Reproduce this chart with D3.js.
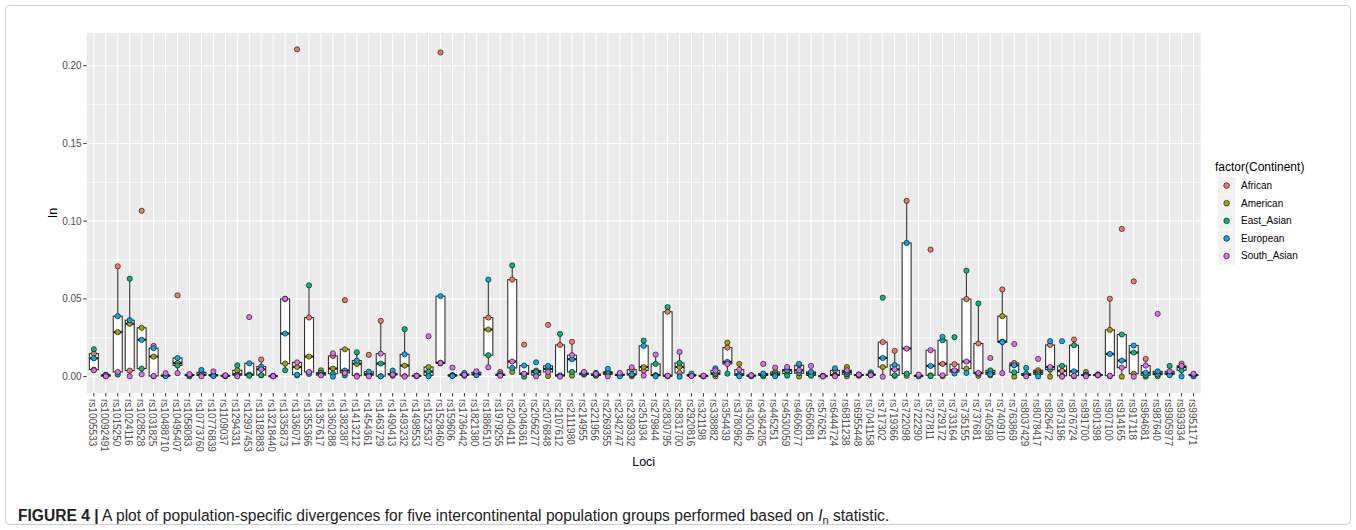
<!DOCTYPE html>
<html>
<head>
<meta charset="utf-8">
<script src="https://cdn.jsdelivr.net/npm/d3@7"></script>
<style>
  body { margin: 0; background: #fff; }
  svg { display: block; font-family: "Liberation Sans", Arial, Helvetica, sans-serif; }
</style>
</head>
<body>
<svg id="chart" width="1356" height="530"></svg>
<script>
// Loci on the x axis, in plotting order
const loci = [
  "rs1005533","rs10092491","rs1015250","rs1024116","rs1028528","rs1031825","rs10488710","rs10495407",
  "rs1058083","rs10773760","rs10776839","rs1109037","rs1294331","rs12997453","rs13182883","rs13218440",
  "rs1335873","rs1336071","rs1355366","rs1357617","rs1360288","rs1382387","rs1413212","rs1454361",
  "rs1463729","rs1490413","rs1493232","rs1498553","rs1523537","rs1528460","rs159606","rs1736442",
  "rs1821380","rs1886510","rs1979255","rs2040411","rs2046361","rs2056277","rs2076848","rs2107612",
  "rs2111980","rs214955","rs221956","rs2269355","rs2342747","rs2399332","rs251934","rs279844",
  "rs2830795","rs2831700","rs2920816","rs321198","rs338882","rs354439","rs3780962","rs430046",
  "rs4364205","rs445251","rs4530059","rs4606077","rs560681","rs576261","rs6444724","rs6811238",
  "rs6955448","rs7041158","rs717302","rs719366","rs722098","rs722290","rs727811","rs729172",
  "rs733164","rs735155","rs737681","rs740598","rs740910","rs763869","rs8037429","rs8078417",
  "rs826472","rs873196","rs876724","rs891700","rs901398","rs907100","rs914165","rs917118",
  "rs964681","rs987640","rs9905977","rs993934","rs9951171"
];

const continents = ["African", "American", "East_Asian", "European", "South_Asian"];

// In statistic per locus, one array per continent
const african = [
  .0148,.0012,.071,.0039,.1067,.0198,.0008,.0523,.0012,.0028,.0012,.0004,.0015,.0013,.011,.0004,
  .0500,.2105,.038,.002,.0133,.0492,.0006,.014,.0359,.002,.0004,.0004,.0008,.2085,.001,.0015,
  .0028,.038,.003,.0624,.0206,.0039,.0333,.0204,.0224,.0015,.001,.0025,.0015,.0045,.0039,.001,
  .0417,.0024,.0012,.0004,.0002,.0187,.0008,.0006,.0002,.001,.0045,.0073,.002,.0003,.004,.0002,
  .0008,.001,.0222,.0166,.1131,.0005,.0817,.0082,.008,.0499,.0213,.0025,.0561,.0088,.0012,.0041,
  .0204,.0037,.0239,.0008,.0012,.0501,.095,.0613,.0114,.002,.002,.0084,.001
];
const american = [
  .0045,.0008,.0286,.034,.0314,.0129,.0006,.0088,.0008,.0008,.0006,.0003,.0041,.0009,.0008,.0003,
  .0084,.0062,.0129,.0041,.0052,.0176,.0082,.0015,.0003,.0005,.0071,.0006,.0062,.0085,.0008,.001,
  .0015,.0303,.0012,.003,.0015,.001,.0004,.0005,.0006,.002,.0006,.0015,.001,.0002,.0062,.0007,
  .0004,.0062,.0008,.0003,.0015,.0219,.0082,.0008,.0012,.003,.002,.0001,.0008,.0004,.001,.0062,
  .0006,.0012,.0062,.0005,.0005,.0004,.0009,.0003,.003,.0052,.0005,.0008,.0389,.0,.0008,.0028,
  .0,.0005,.0002,.003,.0008,.0301,.0,.0019,.0,.0003,.0015,.0062,.0008
];
const eastAsian = [
  .0176,.0004,.0013,.063,.0052,.0002,.0005,.0072,.0001,.0012,.0009,.0005,.0073,.0006,.001,.0002,
  .0041,.0008,.0587,.0025,.0019,.0008,.0157,.001,.0084,.0015,.0305,.0003,.0032,.0089,.0005,.0005,
  .0012,.0138,.0008,.0716,.0,.003,.005,.0275,.003,.0013,.0008,.003,.0008,.0012,.0232,.0082,
  .0447,.0088,.0006,.0005,.002,.0019,.0015,.0004,.0008,.0015,.0006,.0022,.0006,.0002,.0008,.0015,
  .001,.0028,.0508,.0009,.0019,.0006,.0003,.0234,.0254,.0682,.0471,.004,.0225,.0028,.0019,.0015,
  .0045,.0069,.0202,.0012,.0014,.0003,.0271,.0155,.0009,.0013,.0069,.0041,.0002
];
const european = [
  .0118,.001,.0389,.0363,.0237,.0183,.0004,.012,.001,.0043,.0004,.0007,.001,.0086,.0065,.0005,
  .0277,.0013,.0017,.001,.0,.0039,.0103,.0032,.0002,.0039,.0144,.0005,.0003,.0518,.0004,.0024,
  .0009,.0624,.0015,.0056,.0071,.0092,.0069,.0008,.0112,.002,.0024,.005,.0002,.0015,.0198,.0002,
  .0003,.0,.0019,.0002,.0054,.0095,.0002,.0003,.002,.0003,.0041,.0082,.003,.0005,.0054,.003,
  .0014,.0015,.012,.0075,.086,.0002,.0069,.0256,.002,.0024,.0019,.0015,.0222,.0073,.0056,.0001,
  .0228,.0228,.0034,.001,.001,.0146,.0103,.02,.0025,.0034,.0009,.0002,.0012
];
const southAsian = [
  .0041,.0002,.003,.0002,.0015,.0004,.0022,.0022,.0016,.0002,.0034,.0008,.0002,.0383,.0047,.0003,
  .0501,.0092,.003,.0008,.015,.0024,.0,.0002,.0148,.0013,.0,.0005,.026,.0088,.0058,.0012,
  .0034,.006,.0006,.0097,.0019,.0002,.003,.0,.0138,.003,.0018,.0002,.0024,.006,.0006,.0142,
  .0006,.0159,.0004,.0006,.004,.0082,.0045,.0009,.0082,.0058,.0062,.0041,.0069,.0002,.0002,.0041,
  .0013,.0009,.0,.0047,.0181,.0013,.017,.0009,.0041,.0097,.0024,.012,.0022,.021,.0002,.0114,
  .0062,.0,.0006,.0002,.0009,.0006,.0058,.0,.0071,.0404,.0034,.0069,.0019
];

const yTicks = [0, 0.05, 0.10, 0.15, 0.20];
const yMinor = [0.025, 0.075, 0.125, 0.175];
const palette = ["#F8766D", "#A3A500", "#00BF7D", "#00B0F6", "#E76BF3"];

const series = [african, american, eastAsian, european, southAsian];

// Long table: one row per locus x continent
const rows = [];
loci.forEach((l, i) => {
  continents.forEach((c, k) => rows.push({ locus: l, continent: c, value: series[k][i] }));
});

const svg = d3.select("#chart");
const W = 1356, H = 530;
const panel = { left: 86.7, right: 1200.7, top: 33, bottom: 393 };

// Figure frame
svg.append("rect")
  .attr("x", 5.5).attr("y", 5.5).attr("width", W - 11).attr("height", H - 11)
  .attr("rx", 4).attr("fill", "none").attr("stroke", "#cfcfcf").attr("stroke-width", 1);

const x = d3.scalePoint().domain(loci).range([panel.left, panel.right]).padding(0.6);
const lo = d3.min(rows, d => d.value), hi = d3.max(rows, d => d.value);
const pad = 0.05 * (hi - lo);
const y = d3.scaleLinear().domain([lo - pad, hi + pad]).range([panel.bottom, panel.top]);
const color = d3.scaleOrdinal().domain(continents).range(palette);

// Panel background and grid
svg.append("rect")
  .attr("x", panel.left).attr("y", panel.top)
  .attr("width", panel.right - panel.left).attr("height", panel.bottom - panel.top)
  .attr("fill", "#EBEBEB");

const grid = svg.append("g");
grid.selectAll("line.minor").data(yMinor).join("line")
  .attr("x1", panel.left).attr("x2", panel.right)
  .attr("y1", d => y(d)).attr("y2", d => y(d))
  .attr("stroke", "#fff").attr("stroke-width", 0.55);
grid.selectAll("line.majory").data(yTicks).join("line")
  .attr("x1", panel.left).attr("x2", panel.right)
  .attr("y1", d => y(d)).attr("y2", d => y(d))
  .attr("stroke", "#fff").attr("stroke-width", 1.1);
grid.selectAll("line.majorx").data(loci).join("line")
  .attr("x1", d => x(d)).attr("x2", d => x(d))
  .attr("y1", panel.top).attr("y2", panel.bottom)
  .attr("stroke", "#fff").attr("stroke-width", 1.1);

// Boxplot statistics per locus
const boxW = x.step() * 0.75;
const stats = loci.map((l, i) => {
  const v = series.map(s => s[i]).sort(d3.ascending);
  const q1 = d3.quantileSorted(v, 0.25), med = d3.quantileSorted(v, 0.5), q3 = d3.quantileSorted(v, 0.75);
  const iqr = q3 - q1;
  const lowW = d3.min(v.filter(d => d >= q1 - 1.5 * iqr));
  const highW = d3.max(v.filter(d => d <= q3 + 1.5 * iqr));
  return { locus: l, q1, med, q3, lowW, highW };
});

const boxes = svg.append("g").selectAll("g").data(stats).join("g");
boxes.append("line")
  .attr("x1", d => x(d.locus)).attr("x2", d => x(d.locus))
  .attr("y1", d => y(d.highW)).attr("y2", d => y(d.q3))
  .attr("stroke", "#333").attr("stroke-width", 1.1);
boxes.append("line")
  .attr("x1", d => x(d.locus)).attr("x2", d => x(d.locus))
  .attr("y1", d => y(d.q1)).attr("y2", d => y(d.lowW))
  .attr("stroke", "#333").attr("stroke-width", 1.1);
boxes.append("rect")
  .attr("x", d => x(d.locus) - boxW / 2).attr("width", boxW)
  .attr("y", d => y(d.q3)).attr("height", d => Math.max(0.01, y(d.q1) - y(d.q3)))
  .attr("fill", "#fff").attr("stroke", "#333").attr("stroke-width", 1.1);
boxes.append("line")
  .attr("x1", d => x(d.locus) - boxW / 2).attr("x2", d => x(d.locus) + boxW / 2)
  .attr("y1", d => y(d.med)).attr("y2", d => y(d.med))
  .attr("stroke", "#222").attr("stroke-width", 2.2);

// Points, drawn continent by continent
svg.append("g").selectAll("circle").data(rows).join("circle")
  .attr("cx", d => x(d.locus)).attr("cy", d => y(d.value)).attr("r", 2.6)
  .attr("fill", d => color(d.continent)).attr("stroke", "#000").attr("stroke-width", 0.6);

// Y axis
const yAxis = svg.append("g");
yAxis.selectAll("line").data(yTicks).join("line")
  .attr("x1", panel.left - 3.5).attr("x2", panel.left)
  .attr("y1", d => y(d)).attr("y2", d => y(d))
  .attr("stroke", "#333").attr("stroke-width", 1);
yAxis.selectAll("text").data(yTicks).join("text")
  .attr("x", panel.left - 5).attr("y", d => y(d)).attr("dy", "0.35em")
  .attr("text-anchor", "end").attr("font-size", 10).attr("fill", "#4D4D4D")
  .text(d3.format(".2f"));

// X axis
const xAxis = svg.append("g");
xAxis.selectAll("line").data(loci).join("line")
  .attr("x1", d => x(d)).attr("x2", d => x(d))
  .attr("y1", panel.bottom).attr("y2", panel.bottom + 3.5)
  .attr("stroke", "#333").attr("stroke-width", 1);
xAxis.selectAll("text").data(loci).join("text")
  .attr("transform", d => `translate(${x(d) - 1.5},${panel.bottom + 6}) rotate(90)`)
  .attr("dy", "0.35em").attr("text-anchor", "start")
  .attr("font-size", 10).attr("fill", "#4D4D4D")
  .text(d => d);

// Axis titles
svg.append("text")
  .attr("x", (panel.left + panel.right) / 2).attr("y", 466)
  .attr("text-anchor", "middle").attr("font-size", 12.5).attr("fill", "#000")
  .text("Loci");
svg.append("text")
  .attr("transform", `translate(57,${(panel.top + panel.bottom) / 2}) rotate(-90)`)
  .attr("text-anchor", "middle").attr("font-size", 12.5).attr("fill", "#000")
  .text("In");

// Legend
const lg = svg.append("g").attr("transform", "translate(1215,0)");
lg.append("text").attr("x", 0).attr("y", 171)
  .attr("font-size", 12).attr("fill", "#000").text("factor(Continent)");
const keys = lg.selectAll("g").data(continents).join("g")
  .attr("transform", (d, i) => `translate(0,${177 + i * 17.6})`);
keys.append("rect").attr("x", 3).attr("y", 0).attr("width", 17.3).attr("height", 17.3)
  .attr("fill", "#F2F2F2");
keys.append("circle").attr("cx", 11.6).attr("cy", 8.6).attr("r", 2.8)
  .attr("fill", d => color(d)).attr("stroke", "#000").attr("stroke-width", 0.6);
keys.append("text").attr("x", 26).attr("y", 8.6).attr("dy", "0.35em")
  .attr("font-size", 10).attr("fill", "#000").text(d => d);

// Caption
const cap = svg.append("text").attr("x", 18).attr("y", 521)
  .attr("font-size", 15.6).attr("fill", "#222");
cap.append("tspan").attr("font-weight", "bold").text("FIGURE 4 |");
cap.append("tspan").text(" A plot of population-specific divergences for five intercontinental population groups performed based on ");
cap.append("tspan").attr("font-style", "italic").text("I");
cap.append("tspan").attr("font-size", 11).attr("dy", 3).text("n");
cap.append("tspan").attr("dy", -3).text(" statistic.");
</script>
</body>
</html>
